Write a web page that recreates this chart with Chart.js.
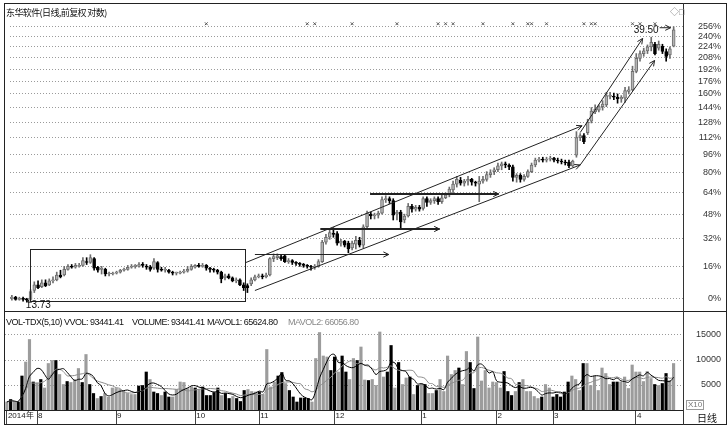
<!DOCTYPE html>
<html lang="zh-CN">
<head>
<meta charset="utf-8">
<title>东华软件 日线</title>
<style>
  * { margin: 0; padding: 0; }
  body { width: 728px; height: 427px; background: #fff; position: relative; overflow: hidden;
         font-family: "Liberation Sans", Arial, sans-serif; color: #111; }
  .frame { position: absolute; left: 4px; top: 3px; width: 723px; height: 422px; border: 1px solid #222; box-sizing: border-box; }
  .hline { position: absolute; left: 4px; top: 311px; width: 723px; height: 1px; background: #222; }
  .vline { position: absolute; left: 683px; top: 3px; width: 1px; height: 422px; background: #333; }
  #priceBox { position: absolute; left: 5px; top: 14px; width: 716px; height: 297px; }
  #volBox { position: absolute; left: 5px; top: 313px; width: 716px; height: 112px; }
  .title { position: absolute; left: 6px; top: 7px; font: 9px "Noto Sans CJK SC", sans-serif; line-height: 11px; letter-spacing: -0.6px; }
  .vh { position: absolute; top: 317px; font-size: 9px; line-height: 10px; white-space: pre; letter-spacing: -0.5px; }
  .x10 { position: absolute; left: 686px; top: 400px; font-size: 8px; line-height: 8px; color: #777; border: 1px solid #999; padding: 0 1px; }
  .dayline { position: absolute; left: 697px; top: 412px; font: 10px "Noto Sans CJK SC", sans-serif; line-height: 11px; }
  .icons { position: absolute; left: 670px; top: 5px; font-size: 9px; color: #888; }
</style>
</head>
<body>
<div id="priceBox"><canvas id="priceChart"></canvas></div>
<div id="volBox"><canvas id="volChart"></canvas></div>
<div class="frame"></div>
<div class="hline"></div>
<div class="vline"></div>
<div class="title">东华软件(日线,前复权 对数)</div>
<div class="vh" style="left:6px">VOL-TDX(5,10) VVOL: 93441.41</div>
<div class="vh" style="left:132px">VOLUME: 93441.41</div>
<div class="vh" style="left:207px">MAVOL1: 65624.80</div>
<div class="vh" style="left:288px;color:#888">MAVOL2: 66056.80</div>
<div class="x10">X10</div>
<div class="dayline">日线</div>
<div class="icons">◇□</div>

<script src="https://cdn.jsdelivr.net/npm/chart.js/dist/chart.umd.min.js"></script>
<script>
// daily candles, values in % on the log axis (0% = base)
const open = [0,0.5,-0.5,0,-0.5,-0.5,3.7,6.5,5.6,7.5,6.5,8.5,9,11.5,11.5,14.5,16.1,15.6,16.1,16.6,
  18.7,18.2,20.4,15.6,14.5,14.5,12,12,12.5,13,14,14.5,15.6,16.1,16.1,17.1,16.1,15.6,15.1,18.2,
  14.5,14,14,13,12.5,12.5,13,13.5,14.5,15.6,16.6,16.1,16.6,15.1,14.5,14,13,10,11,10,
  8.5,9,6.5,6.1,7,9,10.5,11,10.5,11.5,20.4,20.9,21.5,22,18.7,19.3,18.2,17.7,17.1,16.6,
  16.1,15.6,16.1,18.7,30,33,35.4,35.4,29.4,30.6,29.4,26.5,28.8,31.1,28.2,39.7,48.2,46.9,47.5,48.9,
  58.6,59.3,57.9,48.2,49.6,44.2,46.9,53.7,51.6,53,52.3,59.3,56.5,57.9,59.3,57.1,60,62.2,65.9,70.5,
  73.6,71.3,72.9,74.4,72.1,70.5,72.9,74.4,78.3,80.8,82.4,85.7,87.4,86.5,84.9,76,77.6,74.4,76.8,80.8,
  86.5,90.8,91.7,90.8,91.7,92.6,90.8,90,89.1,89.1,85.7,95.2,112,114,117,129,139,141,145,147,
  157,157,156,154,155,163,165,189,207,214,218,224,228,222,225,217,212,225];
const close = [0.5,-0.5,0,-0.5,-0.9,3.2,6.5,5.1,7.5,6.1,8.5,9,11.5,10.5,14.5,16.1,15.6,16.6,16.6,19.3,
  18.2,20.9,15.1,14,15.1,12,12.2,12.5,12.6,14,14.5,15.6,16.1,16.2,17.1,16.6,15.6,14.5,18.7,14.5,
  14,14.5,13,12.5,12.6,13,13.5,14.5,16.1,16.6,16.1,16.6,15.1,14.5,14,13,9.5,11,10,8.5,
  9,6.5,5.1,5.1,9,10.5,11,10.5,11.5,20.4,21.5,22,20.4,18.7,19.3,18.2,17.7,17.1,16.6,16.1,
  15.6,16.1,18.7,30,33,36,34.8,29.4,30.6,28.2,25.9,29.4,31.1,28.2,39.7,48.9,46.9,47.5,48.9,58.6,
  59.3,57.9,47.5,49.6,42.9,46.9,53.7,51.6,53,51.6,59.3,56.5,57.9,59.3,57.1,60,62.2,66.6,70.5,74.4,
  71.3,72.9,74.4,72.1,71.3,72.9,74.4,78.3,80,82.4,85.7,87.4,86.5,84.9,76,77.6,74.4,76.8,80.8,86.5,
  90.8,91.7,90.8,91.7,92.6,90.8,90,89.1,88.2,85.7,90,112,114,108,128,140,142,145,148,158,
  157.5,156,154,156,164,165,189,207,214,218,224,231,214,228,217,210,221,251];
const high = [1.4,0.9,0.5,0.5,0,4.1,8,8.5,9,9,9.5,10.5,13,14,16.1,17.1,17.1,17.7,17.7,20.9,
  20.9,22.6,20.9,16.1,16.1,15.1,13,13,13.5,14.5,15.1,16.6,17.1,17.1,18.2,18.2,17.1,16.6,20.4,18.7,
  15.6,15.6,14.5,13.5,13,13.5,14.5,16.1,17.1,17.1,17.7,17.7,17.1,15.6,15.1,14.5,13.5,12,12,10.5,
  10,9.5,7.5,7,10,11.5,12,12,12.5,20.9,23.1,23.1,22.6,22.6,20.4,19.8,18.7,18.2,17.7,17.1,
  16.6,17.1,19.8,31.1,34.8,37.9,39.1,36.6,31.7,31.1,30.6,30.6,33.6,33,41,50.3,49.6,48.9,50.3,60.7,
  61.5,60.7,59.3,50.9,50.9,48.2,55.8,55.1,54.4,54.4,60.7,60.7,59.3,60.7,60.7,62.2,63.7,68.2,72.9,76.8,
  76,74.4,76.8,75.2,72.9,76.8,76.8,80.8,82.4,84.1,88.2,89.1,89.1,87.4,86.5,79.1,79.1,78.3,82.4,88.2,
  92.6,93.4,93.4,93.4,94.3,93.4,92.6,91.7,90.8,90.8,90.8,118,116,116,131,144,147,147,152,162,
  162,161,160,158,168,169,196,214,218,222,227,239,231,233,228,221,224,256];
const low = [-0.9,-0.9,-0.9,-1.3,-1.8,-0.9,2.7,4.6,5.1,5.6,6.1,7.5,8.5,10,11,14,15.1,15.1,15.6,16.1,
  17.1,17.7,14,13,12,11,11,11.5,12,12.5,13.5,14,15.1,15.1,15.6,15.6,14.5,13.5,14.5,13,
  13.5,13,12.5,11.5,11.5,12,12.5,13,14,15.1,15.6,15.6,14,13,13,12,7.5,9,9.5,8,
  7.5,6.1,3.7,2.7,6.1,8.5,10,9.5,10,11,18.7,19.8,19.3,18.2,17.7,17.1,16.6,16.1,15.6,15.1,
  14,14.5,15.6,18.2,28.8,31.7,33,28.2,27.6,27.1,23.7,25.4,25.9,27.1,26.5,38.5,44.9,44.9,45.5,48.2,
  56.5,55.8,44.2,44.2,39.1,42.3,46.2,49.6,50.3,50.3,50.9,53.7,55.1,55.8,55.1,55.8,59.3,60.7,63.7,68.2,
  69.7,69,69.7,69.7,69,57.1,71.3,72.9,76,78.3,80.8,82.4,84.1,82.4,72.9,72.1,72.1,72.9,76,80,
  84.9,89.1,89.1,89.1,90,89.1,88.2,87.4,86.5,84.1,84.9,93.4,109,106,115,127,137,139,141,145,
  154,153,149,150,150,160,164,187,203,210,214,218,212,219,214,203,207,224];
// volume, in units of 10 (axis shows X10)
const volume = [1600,2100,1600,1600,6800,9600,14100,5600,5400,6100,4400,9300,9900,9900,7100,5100,5700,5500,6100,8300,
  5500,11100,5100,3300,2300,2700,3300,2600,4400,4300,4100,3900,3300,3100,3100,4800,4900,7600,6100,3600,
  3300,2900,3600,2600,2600,4100,5600,5500,4300,4600,4400,4100,4600,2900,2900,3500,4400,2900,3300,2300,
  2700,2300,1700,3900,4100,3700,3600,3600,3100,12100,4600,5600,6800,7500,5300,3900,2600,1600,2400,2400,
  2300,1600,10300,15500,10800,10600,7900,10600,7600,10800,7600,6100,10300,9900,12600,6000,5900,6100,4900,15600,
  6600,7600,12900,4400,9500,5100,6400,6600,3100,4900,5300,5100,3300,3300,3900,6100,3700,10800,7100,7900,
  8400,5100,11700,9500,4300,14600,5800,7900,4400,5600,5500,4400,7700,3700,2900,3700,5500,6100,3700,3700,
  2700,2300,2600,5100,4400,2600,3100,2600,3600,5600,6800,6100,3900,9300,9300,4900,6800,3900,8400,7300,
  5100,5600,5600,5600,6600,4300,9000,7600,7600,5700,7700,6300,5100,4900,5300,7300,5900,9300];

const monthLabels = ['2014年', '8', '9', '10', '11', '12', '1', '2', '3', '4'];
const monthStart = [0, 8, 29, 50, 67, 87, 110, 130, 145, 167];
const pctTicks = [0, 16, 32, 48, 64, 80, 96, 112, 128, 144, 160, 176, 192, 208, 224, 240, 256];
const volTicks = [5000, 10000, 15000];
const eventIdx = [52, 79, 81, 91, 103, 114, 116, 118, 126, 134, 138, 139, 143, 153, 155, 156, 166, 168, 172];
const eventLevel = 261;

// drawn study marks (index, %)
const boxRange = { from: 4.8, to: 62.4, low: -1.3, high: 25.9 };
const trendLines = [
  [[62.6, 18.2], [152.5, 124]],
  [[65, 3.7], [152, 86.5], [171.9, 204]],
  [[152, 117], [168.7, 237]]
];
const levelArrows = [
  { from: 65, to: 100.8, level: 23.1, width: 1 },
  { from: 82.5, to: 114.4, level: 38.5, width: 2 },
  { from: 95.8, to: 130.2, level: 63, width: 2 }
];
const lowMark = { idx: 4, text: '13.73' };
const highMark = { idx: 177, text: '39.50' };

const idx = open.map((v, i) => i);
const isUp = idx.map(i => close[i] >= open[i]);
const r = p => 1 + p / 100;

function movingAvg(arr, n) {
  return arr.map((v, i) => {
    const s = arr.slice(Math.max(0, i - n + 1), i + 1);
    return s.reduce((a, b) => a + b, 0) / s.length;
  });
}

function arrowHead(ctx, x1, y1, x2, y2) {
  const ang = Math.atan2(y2 - y1, x2 - x1), len = 6;
  ctx.beginPath();
  ctx.moveTo(x2 - len * Math.cos(ang - 0.45), y2 - len * Math.sin(ang - 0.45));
  ctx.lineTo(x2, y2);
  ctx.lineTo(x2 - len * Math.cos(ang + 0.45), y2 - len * Math.sin(ang + 0.45));
  ctx.stroke();
}

const studyMarks = {
  id: 'studyMarks',
  afterDatasetsDraw(chart) {
    const { ctx, scales: { x, y } } = chart;
    const px = i => x.getPixelForValue(i);
    const py = p => y.getPixelForValue(r(p));
    ctx.save();
    ctx.strokeStyle = '#222';
    ctx.lineWidth = 1;
    const bx = Math.round(px(boxRange.from)) + 0.5, by = Math.round(py(boxRange.high)) + 0.5;
    ctx.strokeRect(bx, by, Math.round(px(boxRange.to)) + 0.5 - bx, Math.round(py(boxRange.low)) + 0.5 - by);

    trendLines.forEach(line => {
      ctx.beginPath();
      line.forEach(([i, p], k) => k ? ctx.lineTo(px(i), py(p)) : ctx.moveTo(px(i), py(p)));
      ctx.stroke();
      for (let k = 1; k < line.length; k++) {
        arrowHead(ctx, px(line[k - 1][0]), py(line[k - 1][1]), px(line[k][0]), py(line[k][1]));
      }
    });

    levelArrows.forEach(a => {
      const yy = Math.round(py(a.level)) + (a.width === 1 ? 0.5 : 0);
      ctx.lineWidth = a.width;
      ctx.beginPath();
      ctx.moveTo(px(a.from), yy);
      ctx.lineTo(px(a.to), yy);
      ctx.stroke();
      ctx.lineWidth = 1;
      arrowHead(ctx, px(a.from), yy, px(a.to), yy);
    });

    ctx.fillStyle = '#111';
    ctx.font = '10px "Liberation Sans", Arial, sans-serif';
    ctx.textBaseline = 'middle';
    const lx = px(lowMark.idx), ly = py(low[lowMark.idx]);
    ctx.beginPath(); ctx.moveTo(lx + 5, ly); ctx.lineTo(lx + 1, ly); ctx.stroke();
    ctx.textAlign = 'left';
    ctx.fillText(lowMark.text, lx - 1, ly + 3);
    const hx = px(highMark.idx), hy = py(high[highMark.idx]);
    ctx.beginPath(); ctx.moveTo(hx - 14, hy + 1); ctx.lineTo(hx - 3, hy + 1); ctx.stroke();
    arrowHead(ctx, hx - 14, hy + 1, hx - 3, hy + 1);
    ctx.textAlign = 'right';
    ctx.fillText(highMark.text, hx - 15, hy + 4);
    ctx.restore();
  }
};

Chart.defaults.font.family = '"Liberation Sans", Arial, sans-serif';
Chart.defaults.font.size = 9;
Chart.defaults.color = '#222';

const dotted = { color: '#9a9a9a', drawTicks: false };
// right axis: 38px wide, no extra label padding on top/bottom
const noPad = s => { s.width = 38; s.paddingTop = 0; s.paddingBottom = 0; };

new Chart(document.getElementById('priceChart'), {
  type: 'bar',
  data: {
    datasets: [
      {
        data: idx.map(i => ({ x: i, y: [r(low[i]), r(high[i])] })),
        backgroundColor: idx.map(i => isUp[i] ? '#6e6e6e' : '#000'),
        barThickness: 1, grouped: false, order: 2
      },
      {
        data: idx.map(i => ({ x: i, y: [r(open[i]), r(close[i])] })),
        backgroundColor: idx.map(i => isUp[i] ? '#b4b4b4' : '#000'),
        borderColor: idx.map(i => isUp[i] ? '#6e6e6e' : '#000'),
        borderWidth: 1, borderSkipped: false, minBarLength: 1,
        barThickness: 3, grouped: false, order: 1
      },
      {
        type: 'line',
        data: eventIdx.map(i => ({ x: i, y: r(eventLevel) })),
        showLine: false, pointStyle: 'crossRot', pointRadius: 2,
        borderColor: '#555', borderWidth: 1
      }
    ]
  },
  options: {
    responsive: true, maintainAspectRatio: false, animation: false,
    layout: { padding: 0 },
    plugins: { legend: { display: false }, tooltip: { enabled: false } },
    scales: {
      x: { type: 'linear', min: -0.5, max: 179.5, bounds: 'data', offset: false, display: false },
      y: {
        type: 'logarithmic', position: 'right', min: 0.9645, max: 3.691, bounds: 'data',
        afterBuildTicks: s => { s.ticks = pctTicks.map(p => ({ value: r(p) })); },
        afterFit: noPad,
        grid: dotted,
        border: { display: false, dash: [1, 2] },
        ticks: {
          autoSkip: false, crossAlign: 'far', padding: 6, color: '#333',
          callback: v => Math.round((v - 1) * 100) + '%'
        }
      }
    }
  },
  plugins: [studyMarks]
});

new Chart(document.getElementById('volChart'), {
  type: 'bar',
  data: {
    datasets: [
      {
        type: 'line', data: movingAvg(volume, 5).map((v, i) => ({ x: i, y: v })),
        borderColor: '#000', borderWidth: 1, pointRadius: 0, tension: 0.35, order: 1
      },
      {
        type: 'line', data: movingAvg(volume, 10).map((v, i) => ({ x: i, y: v })),
        borderColor: '#8c8c8c', borderWidth: 1, pointRadius: 0, tension: 0.35, order: 2
      },
      {
        data: idx.map(i => ({ x: i, y: volume[i] })),
        backgroundColor: idx.map(i => isUp[i] ? '#9c9c9c' : '#000'),
        barThickness: 2.5, order: 3
      }
    ]
  },
  options: {
    responsive: true, maintainAspectRatio: false, animation: false,
    layout: { padding: 0 },
    plugins: { legend: { display: false }, tooltip: { enabled: false } },
    scales: {
      x: {
        type: 'linear', min: -0.5, max: 179.5, bounds: 'data', offset: false,
        afterBuildTicks: s => { s.ticks = monthStart.map(v => ({ value: v })); },
        afterFit: s => { s.height = 15; s.paddingLeft = 0; s.paddingRight = 0; },
        grid: { drawOnChartArea: false, drawTicks: true, tickLength: 15, tickColor: '#444', offset: false },
        border: { display: true, color: '#222' },
        ticks: {
          autoSkip: false, maxRotation: 0, align: 'start', padding: -14, labelOffset: 1,
          font: { size: 8 },
          callback: v => monthLabels[monthStart.indexOf(v)]
        }
      },
      y: {
        position: 'right', min: 0, max: 19400, bounds: 'data',
        afterBuildTicks: s => { s.ticks = volTicks.map(v => ({ value: v })); },
        afterFit: noPad,
        grid: dotted,
        border: { display: false, dash: [1, 2] },
        ticks: { autoSkip: false, crossAlign: 'far', padding: 6, color: '#333', callback: v => String(v) }
      }
    }
  }
});
</script>
</body>
</html>
